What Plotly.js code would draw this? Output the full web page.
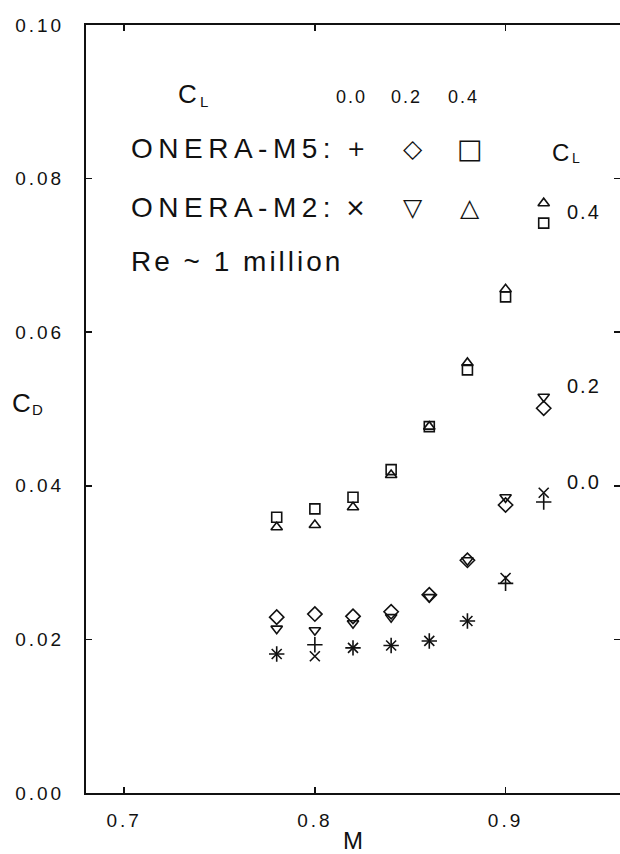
<!DOCTYPE html>
<html>
<head>
<meta charset="utf-8">
<script src="https://cdn.plot.ly/plotly-3.0.1.min.js"></script>
<style>
  html, body { margin: 0; padding: 0; background: #fff; }
  #chart { width: 620px; height: 854px; }
</style>
</head>
<body>
<div id="chart"></div>
<script>
// Mach numbers of the test points
const mach = [0.78, 0.80, 0.82, 0.84, 0.86, 0.88, 0.90, 0.92];

// Drag coefficient, ONERA-M5 model
const m5_cl00 = [0.0181, 0.0193, 0.0189, 0.0192, 0.0198, 0.0224, 0.0273, 0.0379];
const m5_cl02 = [0.0229, 0.0233, 0.0230, 0.0236, 0.0258, 0.0303, 0.0375, 0.0501];
const m5_cl04 = [0.0359, 0.0370, 0.0385, 0.0421, 0.0477, 0.0551, 0.0646, 0.0742];

// Drag coefficient, ONERA-M2 model
const m2_cl00 = [0.0181, 0.0178, 0.0189, 0.0192, 0.0198, 0.0224, 0.0280, 0.0391];
const m2_cl02 = [0.0214, 0.0212, 0.0221, 0.0229, 0.0255, 0.0303, 0.0385, 0.0516];
const m2_cl04 = [0.0346, 0.0349, 0.0372, 0.0414, 0.0477, 0.0560, 0.0656, 0.0768];

const xTicks = [0.7, 0.8, 0.9];
const yTicks = [0.00, 0.02, 0.04, 0.06, 0.08, 0.10];

const INK = '#111';
const FONT = 'Liberation Sans, Arial, sans-serif';

// widely spaced lettering, as on a pen plotter
const spaced = (s, px) => '<span style="letter-spacing:' + px + 'px">' + s + '</span>';

function series(y, symbol, size) {
  return {
    x: mach, y: y, type: 'scatter', mode: 'markers', showlegend: false,
    cliponaxis: false,
    marker: { symbol: symbol, size: size, color: INK, line: { color: INK, width: 1.6 } }
  };
}

const traces = [
  series(m5_cl00, 'cross-thin-open', 11),
  series(m2_cl00, 'x-thin-open', 10),
  series(m5_cl02, 'diamond-open', 11),
  series(m2_cl02, 'triangle-down-open', 10),
  series(m5_cl04, 'square-open', 10),
  series(m2_cl04, 'triangle-up-open', 10),
  // right-hand tick marks only
  { x: [mach[0]], y: [m5_cl00[0]], yaxis: 'y2', type: 'scatter', mode: 'none',
    showlegend: false, hoverinfo: 'skip' }
];

function txt(text, x, y, size, spacing, anchor) {
  return {
    xref: 'paper', yref: 'paper', x: x, y: y, showarrow: false,
    xanchor: anchor || 'center', yanchor: 'middle',
    text: spacing ? spaced(text, spacing) : text,
    font: { family: FONT, size: size, color: INK }
  };
}

const glyph = (t, x, y, size) => ({
  xref: 'paper', yref: 'paper', x: x, y: y, showarrow: false,
  xanchor: 'center', yanchor: 'middle', text: t,
  font: { family: 'DejaVu Sans', size: size, color: INK }
});

const annotations = [
  // C_L header of the key
  txt('C', 0.191, 0.910, 26, 0),
  txt('L', 0.221, 0.901, 15, 0),
  txt('0.0', 0.498, 0.906, 18, 2),
  txt('0.2', 0.601, 0.906, 18, 2),
  txt('0.4', 0.706, 0.906, 18, 2),
  txt('ONERA-M5:', 0.0805, 0.8398, 28, 5.5, 'left'),
  txt('ONERA-M2:', 0.0805, 0.763, 28, 5.5, 'left'),
  txt('Re ~ 1 million', 0.0805, 0.6927, 28, 3, 'left'),
  glyph('+', 0.5056, 0.8398, 22),
  glyph('\u25C7', 0.6124, 0.8398, 25),
  glyph('\u25A1', 0.719, 0.8398, 27),
  glyph('\u00D7', 0.5056, 0.763, 25),
  glyph('\u25BD', 0.6124, 0.763, 25),
  glyph('\u25B3', 0.719, 0.763, 25),
  // curve labels on the right
  txt('C', 0.8895, 0.8346, 24, 0),
  txt('L', 0.9176, 0.8268, 14, 0),
  txt('0.4', 0.897, 0.7565, 20, 2, 'left'),
  txt('0.2', 0.897, 0.53, 20, 2, 'left'),
  txt('0.0', 0.897, 0.405, 20, 2, 'left'),
  // axis titles
  txt('C', -0.1199, 0.5078, 26, 0),
  txt('D', -0.0905, 0.500, 15, 0),
  txt('M', 0.5, -0.0612, 24, 0)
];

const layout = {
  width: 620, height: 854,
  margin: { l: 86, r: 0, t: 25, b: 61 },
  paper_bgcolor: '#fff', plot_bgcolor: '#fff',
  font: { family: FONT, size: 19, color: INK },
  xaxis: {
    range: [0.68, 0.96], tickvals: xTicks, ticktext: xTicks.map(v => spaced(v.toFixed(1), 3)),
    ticks: 'inside', ticklen: 6, tickwidth: 1.5, tickcolor: INK,
    showline: true, linecolor: INK, linewidth: 2, mirror: 'ticks',
    showgrid: false, zeroline: false, ticklabelstandoff: 9
  },
  yaxis: {
    range: [0, 0.10], tickvals: yTicks, ticktext: yTicks.map(v => spaced(v.toFixed(2), 3)),
    ticks: 'inside', ticklen: 6, tickwidth: 1.5, tickcolor: INK,
    showline: true, linecolor: INK, linewidth: 2, mirror: false,
    showgrid: false, zeroline: false, ticklabelstandoff: 16
  },
  yaxis2: {
    overlaying: 'y', side: 'right', range: [0, 0.10], tickvals: yTicks.slice(1, 5),
    ticks: 'inside', ticklen: 6, tickwidth: 1.5, tickcolor: INK,
    showticklabels: false, showline: false, showgrid: false, zeroline: false
  },
  annotations: annotations
};

Plotly.newPlot('chart', traces, layout, { displayModeBar: false, staticPlot: true });
</script>
</body>
</html>
